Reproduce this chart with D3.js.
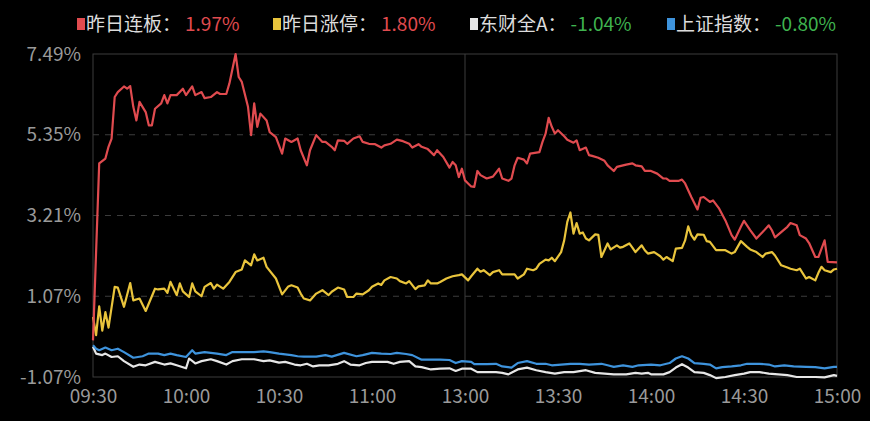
<!DOCTYPE html>
<html>
<head>
<meta charset="utf-8">
<script src="https://cdn.jsdelivr.net/npm/d3@7"></script>
<style>
  html, body { margin: 0; padding: 0; background: #000; }
  svg text { font-family: "Noto Sans CJK SC", "Noto Sans", sans-serif; }
</style>
</head>
<body>
<div id="chart"></div>
<script>
// tick labels (trading minutes from 09:30, lunch break removed)
const timeTicks = [0, 30, 60, 90, 120, 150, 180, 210, 240];
const timeLabels = ["09:30", "10:00", "10:30", "11:00", "13:00", "13:30", "14:00", "14:30", "15:00"];
const yTicks = [-1.07, 1.07, 3.21, 5.35, 7.49];

// legend
const seriesNames = ["昨日连板", "昨日涨停", "东财全A", "上证指数"];
const seriesLast = [1.97, 1.80, -1.04, -0.80];
const seriesColors = ["#e04b4f", "#e9c43c", "#e6e6e6", "#3e93dc"];

// [minute, pct]
const lianban = [[0,-0.10],[2,4.59],[4,4.72],[5,5.03],[6,5.25],[7,6.35],[8,6.48],[10,6.63],[11,6.57],[12,6.64],
  [13,6.09],[14,5.73],[15,6.22],[17,5.95],[18,5.60],[19,5.60],[20,6.04],[22,6.18],[23,6.40],[24,6.18],[25,6.40],
  [27,6.40],[29,6.57],[30,6.40],[32,6.63],[33,6.40],[35,6.48],[36,6.32],[38,6.35],[40,6.48],[41,6.43],[43,6.43],
  [44,6.71],[46,7.49],[47,6.88],[48,6.75],[50,6.09],[51,5.34],[52,6.18],[53,5.56],[54,5.91],[56,5.73],[57,5.42],
  [59,5.29],[61,4.85],[62,5.25],[64,5.16],[66,5.25],[67,4.94],[69,4.54],[70,4.94],[72,5.34],[74,5.16],[75,5.16],
  [77,5.03],[78,4.94],[79,5.20],[81,5.19],[82,5.11],[84,5.25],[86,5.31],[87,5.16],[89,5.11],[91,5.10],[93,5.01],
  [94,5.07],[96,5.11],[98,5.22],[100,5.18],[102,5.11],[103,5.01],[105,5.10],[106,5.03],[108,4.97],[110,4.81],
  [111,4.94],[113,4.76],[115,4.48],[116,4.63],[117,4.54],[118,4.23],[119,4.45],[120,4.14],[121,4.06],[122,3.98],
  [123,3.97],[124,4.39],[125,4.28],[127,4.19],[129,4.24],[131,4.45],[132,4.19],[134,4.13],[135,4.19],[136,4.54],
  [137,4.74],[139,4.69],[140,4.59],[141,4.85],[144,4.89],[145,5.16],[146,5.38],[147,5.80],[148,5.56],[149,5.38],
  [150,5.47],[152,5.31],[153,5.22],[155,5.14],[156,5.20],[157,4.94],[159,5.01],[160,4.81],[161,4.79],[163,4.74],
  [165,4.66],[166,4.54],[168,4.39],[169,4.50],[172,4.56],[174,4.59],[175,4.54],[177,4.51],[178,4.39],[180,4.39],
  [182,4.32],[184,4.19],[185,4.19],[186,4.13],[189,4.13],[190,4.16],[191,4.06],[193,3.70],[195,3.37],[196,3.68],
  [197,3.70],[199,3.57],[200,3.61],[202,3.39],[204,3.08],[206,2.69],[207,2.57],[209,2.91],[210,3.07],[212,2.82],
  [214,2.60],[216,2.77],[218,2.95],[219,2.82],[220,2.63],[222,2.77],[224,2.91],[225,3.01],[227,2.95],[228,2.69],
  [230,2.60],[231,2.48],[233,2.11],[234,2.11],[236,2.55],[237,1.98],[240,1.97]];

const zhangting = [[0,0.52],[1,0.04],[2,0.80],[3,0.16],[4,0.65],[5,0.24],[7,1.32],[8,1.30],[10,0.79],[12,1.42],
  [13,0.96],[15,1.01],[17,0.68],[20,1.27],[21,1.25],[23,1.27],[24,1.16],[25,1.45],[27,1.10],[28,1.41],[29,1.20],
  [31,1.05],[32,1.41],[33,1.20],[35,1.07],[36,1.32],[38,1.42],[39,1.27],[40,1.38],[42,1.27],[44,1.45],[46,1.71],
  [48,1.78],[49,2.02],[51,1.89],[52,2.18],[53,2.02],[55,2.09],[56,1.85],[59,1.54],[61,1.12],[63,1.33],[64,1.36],
  [66,1.30],[67,1.14],[68,1.01],[70,0.96],[72,1.14],[74,1.23],[76,1.10],[77,1.19],[79,1.30],[81,1.25],[82,1.05],
  [84,1.05],[85,1.14],[87,1.12],[89,1.23],[90,1.32],[92,1.41],[93,1.37],[94,1.49],[96,1.58],[98,1.54],[99,1.47],
  [101,1.41],[102,1.47],[104,1.26],[105,1.33],[107,1.36],[108,1.49],[109,1.41],[111,1.41],[112,1.45],[114,1.54],
  [116,1.60],[118,1.63],[119,1.65],[121,1.49],[122,1.60],[124,1.80],[125,1.72],[126,1.76],[128,1.63],[129,1.71],
  [131,1.76],[132,1.65],[134,1.65],[136,1.65],[137,1.54],[139,1.65],[140,1.80],[142,1.76],[143,1.80],[144,1.93],
  [146,2.04],[147,2.02],[148,2.09],[149,2.00],[151,2.24],[152,2.55],[153,3.04],[154,3.29],[155,2.73],[156,3.01],
  [157,2.73],[158,2.76],[159,2.60],[160,2.55],[162,2.71],[163,2.70],[164,2.11],[165,2.29],[166,2.47],[167,2.31],
  [169,2.42],[170,2.36],[171,2.38],[173,2.47],[174,2.36],[175,2.24],[177,2.42],[178,2.29],[179,2.20],[181,2.24],
  [183,2.13],[184,2.04],[185,2.11],[187,2.00],[188,2.33],[190,2.35],[191,2.55],[192,2.92],[193,2.69],[194,2.57],
  [195,2.71],[197,2.70],[198,2.53],[199,2.51],[201,2.29],[202,2.29],[204,2.29],[206,2.20],[207,2.24],[209,2.53],
  [211,2.38],[212,2.31],[214,2.24],[216,2.11],[217,2.20],[219,2.24],[220,2.15],[222,1.89],[224,1.83],[225,1.80],
  [227,1.76],[228,1.80],[230,1.54],[231,1.58],[233,1.49],[234,1.69],[235,1.85],[236,1.76],[238,1.71],[239,1.78],
  [240,1.80]];

const quanA = [[0,-0.27],[1,-0.45],[3,-0.49],[4,-0.45],[6,-0.54],[8,-0.52],[10,-0.65],[13,-0.80],[15,-0.74],
  [17,-0.76],[20,-0.67],[23,-0.74],[25,-0.71],[27,-0.76],[30,-0.84],[31,-0.58],[33,-0.71],[35,-0.65],[38,-0.60],
  [40,-0.65],[43,-0.74],[45,-0.65],[48,-0.60],[52,-0.60],[55,-0.65],[57,-0.63],[60,-0.69],[62,-0.67],[65,-0.74],
  [67,-0.76],[69,-0.72],[71,-0.79],[73,-0.76],[76,-0.76],[79,-0.72],[81,-0.65],[83,-0.74],[86,-0.76],[88,-0.70],
  [90,-0.67],[95,-0.67],[97,-0.72],[99,-0.67],[102,-0.65],[104,-0.79],[106,-0.81],[109,-0.87],[112,-0.85],
  [115,-0.84],[117,-0.91],[119,-0.85],[122,-0.85],[124,-0.94],[127,-0.94],[130,-0.94],[132,-0.96],[134,-1.00],
  [137,-0.87],[140,-0.82],[143,-0.89],[146,-0.94],[149,-0.98],[152,-0.94],[155,-0.94],[159,-0.89],[162,-0.96],
  [165,-0.98],[168,-1.00],[172,-1.00],[175,-0.96],[177,-0.98],[179,-0.96],[180,-1.00],[184,-1.00],[186,-0.94],
  [188,-0.82],[190,-0.73],[192,-0.82],[194,-0.94],[197,-0.96],[199,-1.02],[201,-1.10],[204,-1.07],[207,-1.02],
  [210,-0.98],[212,-0.94],[215,-0.94],[218,-0.98],[221,-1.00],[224,-1.02],[227,-1.07],[230,-1.07],[233,-1.07],
  [236,-1.08],[239,-1.02],[240,-1.04]];

const shangzheng = [[0,-0.23],[1,-0.32],[2,-0.36],[4,-0.29],[6,-0.36],[8,-0.32],[10,-0.41],[13,-0.56],[16,-0.52],
  [18,-0.45],[21,-0.45],[23,-0.49],[25,-0.45],[27,-0.49],[30,-0.54],[32,-0.36],[33,-0.45],[36,-0.41],[38,-0.43],
  [40,-0.45],[43,-0.49],[45,-0.41],[48,-0.41],[52,-0.41],[55,-0.39],[57,-0.41],[60,-0.45],[64,-0.49],[66,-0.52],
  [68,-0.53],[72,-0.53],[75,-0.49],[77,-0.53],[81,-0.43],[85,-0.52],[87,-0.49],[90,-0.43],[93,-0.45],[96,-0.46],
  [98,-0.43],[101,-0.46],[103,-0.49],[106,-0.61],[109,-0.61],[112,-0.61],[115,-0.62],[117,-0.70],[119,-0.65],
  [122,-0.67],[123,-0.73],[127,-0.73],[130,-0.72],[132,-0.79],[135,-0.82],[137,-0.70],[140,-0.65],[143,-0.72],
  [146,-0.72],[148,-0.76],[151,-0.74],[154,-0.72],[157,-0.72],[160,-0.74],[164,-0.72],[166,-0.76],[168,-0.80],
  [171,-0.76],[174,-0.80],[176,-0.76],[180,-0.74],[183,-0.76],[186,-0.70],[188,-0.58],[190,-0.52],[192,-0.58],
  [194,-0.70],[197,-0.72],[199,-0.74],[201,-0.84],[203,-0.81],[206,-0.79],[209,-0.76],[211,-0.72],[215,-0.72],
  [218,-0.74],[220,-0.79],[223,-0.76],[226,-0.79],[230,-0.80],[233,-0.81],[236,-0.84],[239,-0.80],[240,-0.80]];

const margin = {top: 54, right: 33, bottom: 44, left: 93};
const width = 870 - margin.left - margin.right;
const height = 421 - margin.top - margin.bottom;

const root = d3.select("#chart")
    .append("svg")
    .attr("width", 870)
    .attr("height", 421)
    .style("background", "#000")
    .style("display", "block");

const svg = root.append("g")
    .attr("transform", `translate(${margin.left},${margin.top})`);

const x = d3.scaleLinear().domain([0, 240]).range([0, width]);
const y = d3.scaleLinear().domain([-1.07, 7.49]).range([height, 0]);

// dashed grid lines (inner ticks only)
svg.selectAll(".grid")
    .data(yTicks.slice(1, -1))
    .enter()
    .append("line")
    .attr("x1", 0)
    .attr("x2", width)
    .attr("y1", d => y(d))
    .attr("y2", d => y(d))
    .attr("stroke", "#3c3c3c")
    .attr("stroke-width", 1)
    .attr("stroke-dasharray", "6,6");

// midday separator
svg.append("line")
    .attr("x1", x(120)).attr("x2", x(120))
    .attr("y1", 0).attr("y2", height)
    .attr("stroke", "#3c3c3c")
    .attr("stroke-width", 1);

// frame
svg.append("rect")
    .attr("x", 0).attr("y", 0)
    .attr("width", width).attr("height", height)
    .attr("fill", "none")
    .attr("stroke", "#3c3c3c")
    .attr("stroke-width", 1);

// y labels
const yAxis = svg.append("g")
    .call(d3.axisLeft(y).tickValues(yTicks).tickSize(0).tickPadding(12).tickFormat(d => d.toFixed(2) + "%"));
yAxis.select(".domain").remove();
yAxis.selectAll("text").style("font-size", "19px").attr("fill", "#9a9a9a");

// x labels
const xAxis = svg.append("g")
    .attr("transform", `translate(0,${height})`)
    .call(d3.axisBottom(x).tickValues(timeTicks).tickSize(0).tickPadding(13)
        .tickFormat((d, i) => timeLabels[i]));
xAxis.select(".domain").remove();
xAxis.selectAll("text").style("font-size", "19px").attr("fill", "#9a9a9a");

// lines
const line = d3.line()
    .x(d => x(d[0]))
    .y(d => y(d[1]));

const seriesData = [lianban, zhangting, quanA, shangzheng];
[2, 3, 1, 0].forEach(i => {
    svg.append("path")
        .datum(seriesData[i])
        .attr("fill", "none")
        .attr("stroke", seriesColors[i])
        .attr("stroke-width", 2.2)
        .attr("stroke-linejoin", "round")
        .attr("d", line);
});

// legend
const legendX = [77, 273, 470, 667];
seriesNames.forEach((name, i) => {
    const g = root.append("g").attr("transform", `translate(${legendX[i]},24)`);
    g.append("rect")
        .attr("x", 0).attr("y", -6)
        .attr("width", 8).attr("height", 12)
        .attr("fill", seriesColors[i]);
    const label = g.append("text")
        .attr("x", 9)
        .attr("dy", "0.35em")
        .style("font-size", "19px")
        .attr("fill", "#dcdcdc")
        .text(name + "：");
    const w = label.node().getComputedTextLength();
    const v = seriesLast[i];
    g.append("text")
        .attr("x", 9 + w + 4)
        .attr("dy", "0.35em")
        .style("font-size", "19px")
        .attr("fill", v >= 0 ? "#e04b4f" : "#3fb34f")
        .text(v.toFixed(2) + "%");
});
</script>
</body>
</html>
